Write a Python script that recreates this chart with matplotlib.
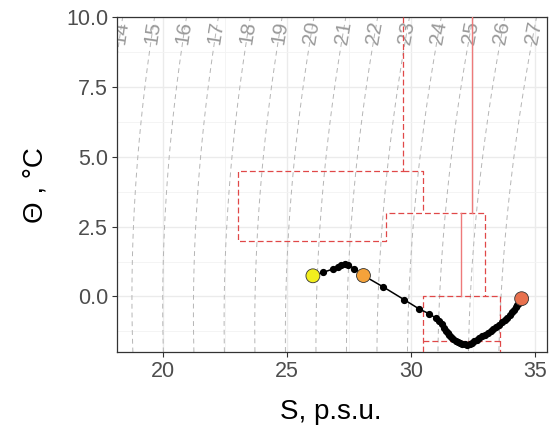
import numpy as np
import matplotlib
matplotlib.use("Agg")
import matplotlib.pyplot as plt

plt.rcParams["font.family"] = ["Liberation Sans", "DejaVu Sans"]

# T-S profile (surface -> bottom), salinity in p.s.u., potential temperature in deg C
S_PROF = [26.04, 26.44, 26.84, 27.05, 27.18, 27.35, 27.47, 27.70, 28.08, 28.88,
          29.73, 30.33, 30.73, 30.99, 31.14, 31.25, 31.34, 31.40, 31.47, 31.54,
          31.62, 31.70, 31.81, 31.90, 31.98, 32.07, 32.17, 32.27, 32.36, 32.45,
          32.54, 32.65, 32.76, 32.88, 32.98, 33.10, 33.22, 33.32, 33.44, 33.55,
          33.66, 33.77, 33.88, 33.98, 34.07, 34.15, 34.22, 34.29, 34.35, 34.46]
T_PROF = [0.74, 0.86, 0.98, 1.05, 1.11, 1.17, 1.14, 1.00, 0.75, 0.34,
          -0.12, -0.45, -0.62, -0.77, -0.88, -0.97, -1.13, -1.22, -1.30, -1.37,
          -1.46, -1.53, -1.59, -1.64, -1.67, -1.70, -1.72, -1.73, -1.69, -1.65,
          -1.61, -1.55, -1.49, -1.43, -1.38, -1.31, -1.25, -1.18, -1.09, -1.01,
          -0.93, -0.85, -0.77, -0.67, -0.57, -0.48, -0.39, -0.31, -0.24, -0.08]

# highlighted levels
S_KEY = [26.04, 28.08, 34.46]
T_KEY = [0.74, 0.75, -0.08]
KEY_COLORS = ["#F2EE1E", "#F4A23A", "#E8714E"]

# water mass boundaries (dashed) and core lines (solid)
WM_DASHED = [
    ([29.66, 29.66, 23.0, 23.0, 29.0, 29.0, 33.0, 33.0], [10.0, 4.5, 4.5, 2.0, 2.0, 3.0, 3.0, 0.0]),
    ([29.66, 30.5, 30.5], [4.5, 4.5, 3.0]),
    ([30.5, 30.5, 33.6, 33.6], [-2.0, 0.0, 0.0, -2.0]),
    ([30.5, 33.6], [-1.6, -1.6]),
]
WM_SOLID = [
    ([32.45, 32.45], [10.0, 3.0]),
    ([32.0, 32.0], [3.0, 0.0]),
]

SIGMA_LEVELS = list(range(14, 28))
X_TICKS = [20, 25, 30, 35]
Y_TICKS = [0.0, 2.5, 5.0, 7.5, 10.0]
XLIM = (18.15, 35.47)
YLIM = (-2.0, 10.0)


def sigma0(S, T):
    """UNESCO EOS-80 density anomaly at the sea surface."""
    rw = (999.842594 + 6.793952e-2 * T - 9.095290e-3 * T**2 + 1.001685e-4 * T**3
          - 1.120083e-6 * T**4 + 6.536332e-9 * T**5)
    a = 8.24493e-1 - 4.0899e-3 * T + 7.6438e-5 * T**2 - 8.2467e-7 * T**3 + 5.3875e-9 * T**4
    b = -5.72466e-3 + 1.0227e-4 * T - 1.6546e-6 * T**2
    c = 4.8314e-4
    return rw + a * S + b * S**1.5 + c * S**2 - 1000.0


fig = plt.figure(figsize=(5.54, 4.30), dpi=100)
ax = fig.add_axes([0.2117, 0.1807, 0.7751, 0.7791])

# grid like theme_bw
ax.set_xticks(X_TICKS)
ax.set_yticks(Y_TICKS)
ax.set_xticks([17.5, 22.5, 27.5, 32.5], minor=True)
ax.set_yticks([-1.25, 1.25, 3.75, 6.25, 8.75], minor=True)
ax.set_xlim(*XLIM)
ax.set_ylim(*YLIM)
ax.grid(True, which="major", color="#EBEBEB", lw=1.0, zorder=0)
ax.grid(True, which="minor", color="#F3F3F3", lw=0.6, zorder=0)
ax.set_axisbelow(True)
ax.tick_params(which="minor", length=0)
ax.tick_params(which="major", length=3.6, width=0.8, color="#333333",
               labelsize=15.5, labelcolor="#4D4D4D", pad=3)
ax.set_yticklabels([f"{v:.1f}" for v in Y_TICKS])
for sp in ax.spines.values():
    sp.set_color("#333333")
    sp.set_linewidth(0.9)

# isopycnals
sg, tg = np.meshgrid(np.linspace(16, 37, 300), np.linspace(-3, 11, 200))
ax.contour(sg, tg, sigma0(sg, tg), levels=SIGMA_LEVELS, colors="#B5B5B5",
           linewidths=0.7, linestyles=[(0, (5, 4))], zorder=1)
ax.set_xlim(*XLIM)
ax.set_ylim(*YLIM)

# contour labels near the top, rotated along the line
fig.canvas.draw()
s_fine = np.linspace(10, 40, 3001)
t_lab = 9.45
for lev in SIGMA_LEVELS:
    s_lab = np.interp(lev, sigma0(s_fine, t_lab), s_fine)
    s_up = np.interp(lev, sigma0(s_fine, t_lab + 0.3), s_fine)
    p0 = ax.transData.transform((s_lab, t_lab))
    p1 = ax.transData.transform((s_up, t_lab + 0.3))
    ang = np.degrees(np.arctan2(p1[1] - p0[1], p1[0] - p0[0]))
    ax.text(s_lab, t_lab, str(lev), rotation=ang, rotation_mode="anchor",
            ha="center", va="center", fontsize=15, color="#9A9A9A",
            clip_on=True, zorder=2)

# water masses
for xs, ys in WM_DASHED:
    ax.plot(xs, ys, color="#E04848", lw=0.9, dashes=(4.7, 2.4), zorder=3)
for xs, ys in WM_SOLID:
    ax.plot(xs, ys, color="#EE7A7A", lw=1.0, zorder=3)

# profile
ax.plot(S_PROF, T_PROF, color="black", lw=1.1, marker="o", ms=4.2, zorder=4)
ax.scatter(S_KEY, T_KEY, s=100, c=KEY_COLORS, edgecolors="#333333",
           linewidths=0.6, zorder=5)

fig.text(35 / 554, 1 - 185 / 430, "Θ , °C", rotation=90, ha="center", va="center",
         fontsize=20, color="black")
fig.text(331 / 554, 1 - 412 / 430, "S, p.s.u.", ha="center", va="center",
         fontsize=20, color="black")

fig.savefig("out.png", dpi=100)
